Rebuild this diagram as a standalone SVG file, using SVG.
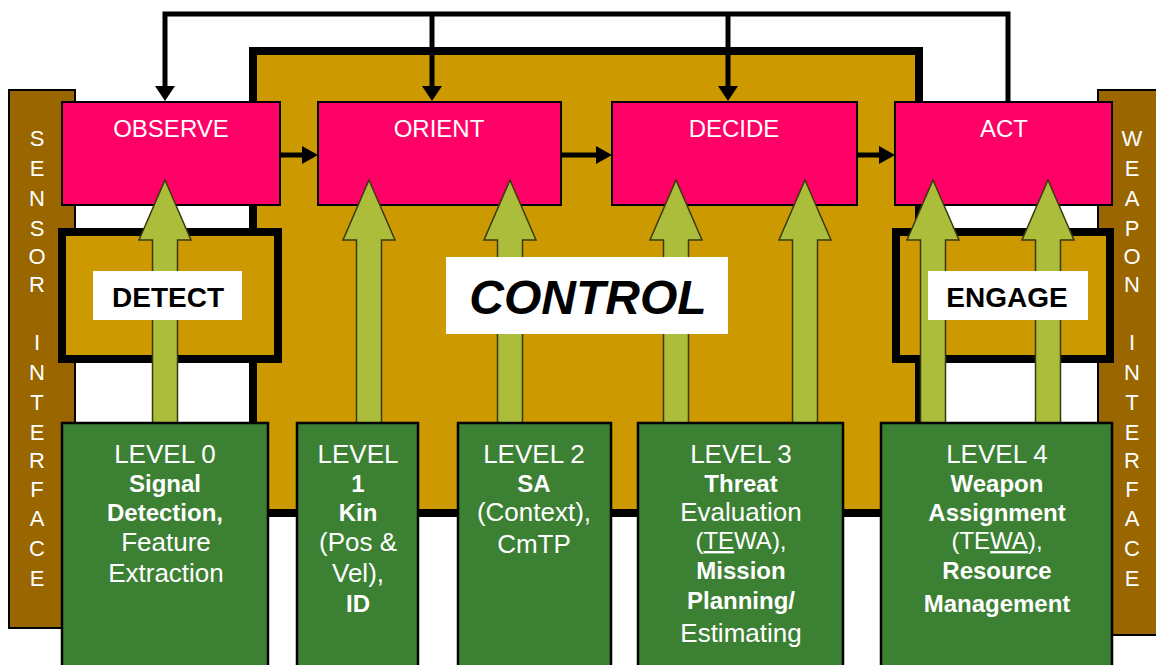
<svg xmlns="http://www.w3.org/2000/svg" width="1156" height="665" viewBox="0 0 1156 665">
  <style>
    .pink { fill: #FF0066; stroke: #000; stroke-width: 2; }
    .frame { fill: #CC9900; stroke: #000; stroke-width: 8; }
    .bar { fill: #996600; stroke: #000; stroke-width: 2; }
    .level { fill: #3C8033; stroke: #000; stroke-width: 2.5; }
    .label { fill: #FFFFFF; }
    .up { fill: #ABBD3A; stroke: #3A3A10; stroke-width: 1.5; }
    .wire { fill: none; stroke: #000; stroke-width: 5; }
    .head { fill: #000; }
    .t-box { font-family: "Liberation Sans", Arial, sans-serif; font-size: 24px; fill: #FFFFFF; text-anchor: middle; }
    .t-side { font-family: "Liberation Sans", Arial, sans-serif; font-size: 22px; fill: #FFFFFF; text-anchor: middle; }
    .t-lvl { font-family: "Liberation Sans", Arial, sans-serif; font-size: 26px; fill: #FFFFFF; text-anchor: middle; }
    .bold { font-weight: bold; font-size: 24px; }
    .tight { font-size: 24px; }
    .t-tag { font-family: "Liberation Sans", Arial, sans-serif; font-size: 28px; font-weight: bold; fill: #000; text-anchor: middle; }
  </style>
  <defs>
    <!-- upward block arrow, shaft 25 wide, head 52 wide, tip at y=0 -->
    <path id="uparrow" d="M0,0 L26,60 L12.5,60 L12.5,243 L-12.5,243 L-12.5,60 L-26,60 Z"/>
  </defs>

  <rect width="1156" height="665" fill="#FFFFFF"/>

  <!-- CONTROL frame -->
  <g id="control">
    <rect class="frame" x="253" y="51" width="666" height="462"/>
  </g>

  <!-- side interfaces -->
  <g id="sensor-interface">
    <rect class="bar" x="9" y="90" width="66" height="538"/>
    <g class="t-side">
      <text x="37" y="146">S</text><text x="37" y="176">E</text><text x="37" y="206">N</text>
      <text x="37" y="236">S</text><text x="37" y="264">O</text><text x="37" y="292">R</text>
      <text x="37" y="350">I</text><text x="37" y="380">N</text><text x="37" y="410">T</text>
      <text x="37" y="440">E</text><text x="37" y="468">R</text><text x="37" y="497">F</text>
      <text x="37" y="526">A</text><text x="37" y="556">C</text><text x="37" y="586">E</text>
    </g>
  </g>
  <g id="weapon-interface">
    <rect class="bar" x="1098" y="90" width="60" height="545"/>
    <g class="t-side">
      <text x="1132" y="146">W</text><text x="1132" y="176">E</text><text x="1132" y="206">A</text>
      <text x="1132" y="236">P</text><text x="1132" y="264">O</text><text x="1132" y="292">N</text>
      <text x="1132" y="350">I</text><text x="1132" y="380">N</text><text x="1132" y="410">T</text>
      <text x="1132" y="440">E</text><text x="1132" y="468">R</text><text x="1132" y="497">F</text>
      <text x="1132" y="526">A</text><text x="1132" y="556">C</text><text x="1132" y="586">E</text>
    </g>
  </g>

  <!-- OODA boxes -->
  <g id="observe">
    <rect class="pink" x="62" y="102" width="218" height="103"/>
    <text class="t-box" x="171" y="137">OBSERVE</text>
  </g>
  <g id="orient">
    <rect class="pink" x="318" y="102" width="243" height="103"/>
    <text class="t-box" x="439" y="137">ORIENT</text>
  </g>
  <g id="decide">
    <rect class="pink" x="612" y="102" width="245" height="103"/>
    <text class="t-box" x="734" y="137">DECIDE</text>
  </g>
  <g id="act">
    <rect class="pink" x="895" y="102" width="217" height="103"/>
    <text class="t-box" x="1004" y="137">ACT</text>
  </g>

  <!-- DETECT / ENGAGE frames -->
  <g id="detect-frame">
    <rect class="frame" x="62" y="232" width="216" height="127" stroke-width="7"/>
  </g>
  <g id="engage-frame">
    <rect class="frame" x="896" y="232" width="214" height="127" stroke-width="7"/>
  </g>

  <!-- connectors -->
  <g id="connectors">
    <!-- feedback loop from ACT back to OBSERVE / ORIENT / DECIDE -->
    <path class="wire" d="M1008,102 V14 H165 V88"/>
    <path class="wire" d="M432,14 V88"/>
    <path class="wire" d="M728,14 V88"/>
    <path class="head" d="M155,86 L175,86 L165,101 Z"/>
    <path class="head" d="M422,86 L442,86 L432,101 Z"/>
    <path class="head" d="M718,86 L738,86 L728,101 Z"/>
    <!-- OODA sequence -->
    <path class="wire" d="M280,155 H304"/>
    <path class="wire" d="M561,155 H598"/>
    <path class="wire" d="M857,155 H881"/>
    <path class="head" d="M302,146 L318,155 L302,164 Z"/>
    <path class="head" d="M596,146 L612,155 L596,164 Z"/>
    <path class="head" d="M879,146 L895,155 L879,164 Z"/>
    <!-- fusion levels feeding the loop -->
    <use href="#uparrow" class="up" x="165" y="180"/>
    <use href="#uparrow" class="up" x="369" y="180"/>
    <use href="#uparrow" class="up" x="510" y="180"/>
    <use href="#uparrow" class="up" x="676" y="180"/>
    <use href="#uparrow" class="up" x="805" y="180"/>
    <use href="#uparrow" class="up" x="933" y="180"/>
    <use href="#uparrow" class="up" x="1048" y="180"/>
  </g>

  <!-- tags -->
  <g id="detect">
    <rect class="label" x="93" y="271" width="149" height="49"/>
    <text class="t-tag" x="168" y="307">DETECT</text>
  </g>
  <g id="engage">
    <rect class="label" x="928" y="271" width="160" height="49"/>
    <text class="t-tag" x="1007" y="307">ENGAGE</text>
  </g>
  <g id="control-tag">
    <rect class="label" x="446" y="257" width="282" height="77"/>
    <text x="588" y="314" font-family="'Liberation Sans', Arial, sans-serif" font-size="48" font-weight="bold" font-style="italic" fill="#000" text-anchor="middle">CONTROL</text>
  </g>

  <!-- fusion levels -->
  <g id="level0">
    <rect class="level" x="62" y="423" width="206" height="250"/>
    <g class="t-lvl">
      <text x="165" y="463">LEVEL 0</text>
      <text x="165" y="492" class="bold">Signal</text>
      <text x="165" y="521" class="bold">Detection,</text>
      <text x="166" y="551">Feature</text>
      <text x="166" y="582">Extraction</text>
    </g>
  </g>
  <g id="level1">
    <rect class="level" x="297" y="423" width="121" height="250"/>
    <g class="t-lvl">
      <text x="358" y="463">LEVEL</text>
      <text x="358" y="492" class="bold">1</text>
      <text x="358" y="521" class="bold">Kin</text>
      <text x="358" y="551">(Pos &amp;</text>
      <text x="358" y="582">Vel),</text>
      <text x="358" y="612" class="bold">ID</text>
    </g>
  </g>
  <g id="level2">
    <rect class="level" x="458" y="423" width="153" height="250"/>
    <g class="t-lvl">
      <text x="534" y="463">LEVEL 2</text>
      <text x="534" y="492" class="bold">SA</text>
      <text x="534" y="521">(Context),</text>
      <text x="534" y="553">CmTP</text>
    </g>
  </g>
  <g id="level3">
    <rect class="level" x="638" y="423" width="205" height="250"/>
    <g class="t-lvl">
      <text x="741" y="463">LEVEL 3</text>
      <text x="741" y="492" class="bold">Threat</text>
      <text x="741" y="521">Evaluation</text>
      <text x="741" y="549" class="tight">(<tspan text-decoration="underline">TE</tspan>WA),</text>
      <text x="741" y="579" class="bold">Mission</text>
      <text x="741" y="609" class="bold">Planning/</text>
      <text x="741" y="642">Estimating</text>
    </g>
  </g>
  <g id="level4">
    <rect class="level" x="881" y="423" width="231" height="250"/>
    <g class="t-lvl">
      <text x="997" y="463">LEVEL 4</text>
      <text x="997" y="492" class="bold">Weapon</text>
      <text x="997" y="521" class="bold">Assignment</text>
      <text x="997" y="549" class="tight">(TE<tspan text-decoration="underline">WA</tspan>),</text>
      <text x="997" y="579" class="bold">Resource</text>
      <text x="997" y="612" class="bold">Management</text>
    </g>
  </g>
</svg>
